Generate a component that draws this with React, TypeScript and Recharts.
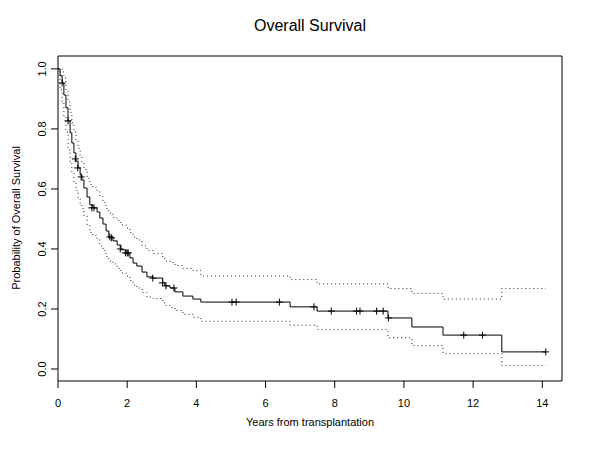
import {
  ComposedChart,
  Line,
  Scatter,
  XAxis,
  YAxis,
  ReferenceArea,
} from "recharts";

const times = [
  0, 0.06, 0.12, 0.17, 0.23, 0.29, 0.35, 0.4, 0.46, 0.52, 0.58, 0.64, 0.69, 0.75, 0.84, 0.92,
  1.01, 1.13, 1.21, 1.3, 1.39, 1.47, 1.59, 1.71, 1.82, 1.97, 2.08, 2.17, 2.28, 2.43, 2.57,
  2.75, 3.03, 3.09, 3.24, 3.38, 3.61, 3.9, 4.13, 6.71, 7.49, 9.54, 10.23, 11.13, 12.83, 14.1,
];
const survival = [
  1.0, 0.977, 0.953, 0.913, 0.87, 0.827, 0.787, 0.753, 0.72, 0.693, 0.67, 0.647, 0.63, 0.603,
  0.573, 0.547, 0.537, 0.523, 0.503, 0.483, 0.46, 0.44, 0.427, 0.413, 0.397, 0.387, 0.37,
  0.353, 0.343, 0.323, 0.307, 0.303, 0.287, 0.277, 0.27, 0.257, 0.243, 0.233, 0.223, 0.207,
  0.193, 0.17, 0.14, 0.113, 0.057, 0.057,
];
const upperCI = [
  1.0, 1.0, 0.99, 0.97, 0.93, 0.89, 0.855, 0.82, 0.79, 0.76, 0.735, 0.71, 0.69, 0.665, 0.635,
  0.615, 0.605, 0.59, 0.575, 0.555, 0.535, 0.52, 0.505, 0.495, 0.48, 0.47, 0.455, 0.44, 0.43,
  0.41, 0.395, 0.385, 0.37, 0.36, 0.355, 0.345, 0.335, 0.328, 0.31, 0.298, 0.284, 0.268,
  0.252, 0.233, 0.268, 0.268,
];
const lowerCI = [
  1.0, 0.93, 0.89, 0.84, 0.79, 0.73, 0.69, 0.655, 0.62, 0.595, 0.57, 0.55, 0.535, 0.51, 0.48,
  0.455, 0.445, 0.43, 0.41, 0.395, 0.375, 0.36, 0.35, 0.335, 0.32, 0.31, 0.295, 0.28, 0.27,
  0.255, 0.24, 0.235, 0.22, 0.212, 0.205, 0.195, 0.182, 0.172, 0.159, 0.146, 0.132, 0.104,
  0.078, 0.052, 0.012, 0.012,
];

// censored observations ("+" marks)
const censorTimes = [
  0.12, 0.29, 0.5, 0.57, 0.67, 0.98, 1.04, 1.5, 1.55, 1.8, 1.95, 2.0, 2.03, 2.74, 3.02, 3.12,
  3.35, 5.03, 5.15, 6.4, 7.4, 7.9, 8.63, 8.73, 9.21, 9.4, 9.55, 11.73, 12.27, 14.1,
];
const censorSurv = [
  0.953, 0.827, 0.7, 0.67, 0.64, 0.537, 0.537, 0.44, 0.437, 0.4, 0.387, 0.387, 0.387, 0.303,
  0.287, 0.277, 0.27, 0.223, 0.223, 0.223, 0.207, 0.193, 0.193, 0.193, 0.193, 0.193, 0.17,
  0.113, 0.113, 0.057,
];

const xTicks = [0, 2, 4, 6, 8, 10, 12, 14];
const yTicks = [0, 0.2, 0.4, 0.6, 0.8, 1.0];

const FONT = '"Liberation Sans", Arial, sans-serif';

const kmData = times.map((t, i) => ({
  t,
  surv: survival[i],
  upper: upperCI[i],
  lower: lowerCI[i],
}));
const censorData = censorTimes.map((t, i) => ({ t, s: censorSurv[i] }));

function CrossMark({ cx, cy }: { cx?: number; cy?: number }) {
  if (cx == null || cy == null) return null;
  return (
    <path
      d={`M${cx - 3.5},${cy}H${cx + 3.5}M${cx},${cy - 3.5}V${cy + 3.5}`}
      stroke="#000"
      strokeWidth={1}
      fill="none"
    />
  );
}

function XTick({ x, y, payload }: any) {
  return (
    <text x={x} y={y + 17} textAnchor="middle" fontSize={11} fontFamily={FONT} fill="#000">
      {payload.value}
    </text>
  );
}

function YTick({ y, payload }: any) {
  const bx = 46;
  return (
    <text
      x={bx}
      y={y}
      transform={`rotate(-90, ${bx}, ${y})`}
      textAnchor="middle"
      fontSize={11}
      fontFamily={FONT}
      fill="#000"
    >
      {Number(payload.value).toFixed(1)}
    </text>
  );
}

export default function App() {
  return (
    <div style={{ position: "absolute", left: 0, top: 0, width: 600, height: 450, background: "#fff" }}>
      <div
        style={{
          position: "absolute",
          top: 17,
          left: 0,
          width: 620,
          textAlign: "center",
          fontFamily: FONT,
          fontSize: 16,
          color: "#000",
        }}
      >
        Overall Survival
      </div>
      <div
        style={{
          position: "absolute",
          top: 416,
          left: 58,
          width: 504,
          textAlign: "center",
          fontFamily: FONT,
          fontSize: 11,
          color: "#000",
        }}
      >
        Years from transplantation
      </div>
      <div
        style={{
          position: "absolute",
          left: 16,
          top: 218,
          transform: "translate(-50%, -50%) rotate(-90deg)",
          whiteSpace: "nowrap",
          fontFamily: FONT,
          fontSize: 11,
          color: "#000",
        }}
      >
        Probability of Overall Survival
      </div>
      <ComposedChart
        width={600}
        height={450}
        data={kmData}
        margin={{ top: 56, right: 38, bottom: 29, left: 0 }}
      >
        <XAxis
          type="number"
          dataKey="t"
          domain={[0, 14.57]}
          ticks={xTicks}
          allowDataOverflow
          axisLine={false}
          tickLine={{ stroke: "#000" }}
          tickSize={7}
          height={40}
          tick={<XTick />}
        />
        <YAxis
          type="number"
          domain={[-0.04, 1.043]}
          ticks={yTicks}
          allowDataOverflow
          axisLine={false}
          tickLine={{ stroke: "#000" }}
          tickSize={7}
          width={58}
          tick={<YTick />}
        />
        <ReferenceArea
          x1={0}
          x2={14.57}
          y1={-0.04}
          y2={1.043}
          fill="none"
          fillOpacity={0}
          stroke="#000"
          strokeWidth={1}
          ifOverflow="visible"
        />
        <Line
          type="stepAfter"
          dataKey="upper"
          stroke="#222"
          strokeDasharray="1 3"
          dot={false}
          activeDot={false}
          isAnimationActive={false}
        />
        <Line
          type="stepAfter"
          dataKey="lower"
          stroke="#222"
          strokeDasharray="1 3"
          dot={false}
          activeDot={false}
          isAnimationActive={false}
        />
        <Line
          type="stepAfter"
          dataKey="surv"
          stroke="#000"
          strokeWidth={1}
          dot={false}
          activeDot={false}
          isAnimationActive={false}
        />
        <Scatter data={censorData} dataKey="s" shape={<CrossMark />} isAnimationActive={false} />
      </ComposedChart>
    </div>
  );
}
